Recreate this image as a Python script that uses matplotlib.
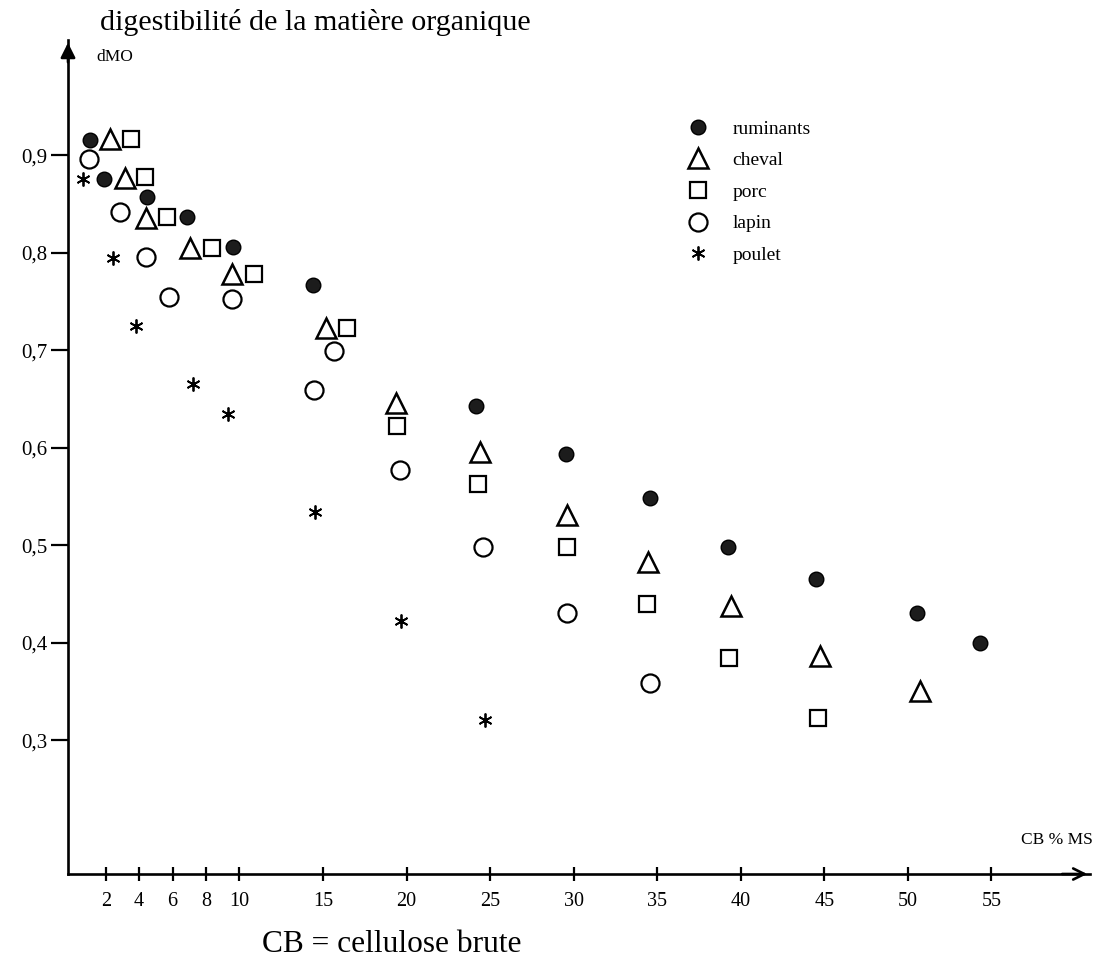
import matplotlib
matplotlib.use("Agg")
import matplotlib.pyplot as plt

# ---- data (CB % MS, dMO) ----
rum_x = [1.06, 1.90, 4.47, 6.86, 9.61, 14.40, 24.15, 29.53, 34.55, 39.22, 44.48, 50.52, 54.29]
rum_y = [0.915, 0.876, 0.857, 0.837, 0.806, 0.767, 0.643, 0.594, 0.548, 0.498, 0.465, 0.431, 0.400]

chev_x = [2.26, 3.15, 4.41, 7.04, 9.55, 15.17, 19.36, 24.38, 29.59, 34.43, 39.40, 44.72, 50.70]
chev_y = [0.916, 0.877, 0.836, 0.805, 0.778, 0.723, 0.646, 0.596, 0.531, 0.483, 0.438, 0.386, 0.351]

porc_x = [3.51, 4.35, 5.66, 8.36, 10.87, 16.43, 19.42, 24.27, 29.59, 34.37, 39.28, 44.60]
porc_y = [0.917, 0.878, 0.837, 0.805, 0.778, 0.723, 0.622, 0.563, 0.498, 0.440, 0.384, 0.323]

lap_x = [1.00, 2.85, 4.41, 5.78, 9.55, 15.64, 14.44, 19.60, 24.56, 29.59, 34.55]
lap_y = [0.896, 0.842, 0.796, 0.755, 0.752, 0.699, 0.659, 0.577, 0.498, 0.431, 0.359]

poul_x = [0.64, 2.43, 3.81, 7.22, 9.31, 14.51, 19.66, 24.69]
poul_y = [0.876, 0.794, 0.725, 0.665, 0.635, 0.534, 0.422, 0.321]

series_labels = ["ruminants", "cheval", "porc", "lapin", "poulet"]

x_ticks = [2, 4, 6, 8, 10, 15, 20, 25, 30, 35, 40, 45, 50, 55]
x_ticklabels = [str(v) for v in x_ticks]
y_ticks = [0.3, 0.4, 0.5, 0.6, 0.7, 0.8, 0.9]
y_ticklabels = ["0,3", "0,4", "0,5", "0,6", "0,7", "0,8", "0,9"]

title_text = "digestibilité de la matière organique"
ylabel_text = "dMO"
xlabel_text = "CB % MS"
note_text = "CB = cellulose brute"

# ---- figure ----
plt.rcParams['font.family'] = ['Liberation Serif', 'DejaVu Serif']
W, H = 1094, 974
AX_L, AX_R, AX_T, AX_B = 68, 1090, 40, 874
fig = plt.figure(figsize=(W / 100, H / 100), dpi=100)
ax = fig.add_axes([AX_L / W, 1 - AX_B / H, (AX_R - AX_L) / W, (AX_B - AX_T) / H])
ax.set_xlim(-0.26, 60.9)
ax.set_ylim(0.163, 1.018)

lw = 1.9
for s in ["top", "right"]:
    ax.spines[s].set_visible(False)
for s in ["left", "bottom"]:
    ax.spines[s].set_linewidth(lw)
    ax.spines[s].set_color("black")

ax.plot(rum_x, rum_y, linestyle="none", marker="o", ms=10.5, mfc="#1c1c1c", mec="black", mew=1.0,
        label=series_labels[0], clip_on=False)
ax.plot(chev_x, chev_y, linestyle="none", marker="^", ms=15, mfc="none", mec="black", mew=1.8,
        label=series_labels[1], clip_on=False)
ax.plot(porc_x, porc_y, linestyle="none", marker="s", ms=11.5, mfc="none", mec="black", mew=1.6,
        label=series_labels[2], clip_on=False)
ax.plot(lap_x, lap_y, linestyle="none", marker="o", ms=13, mfc="none", mec="black", mew=1.6,
        label=series_labels[3], clip_on=False)
ax.plot(poul_x, poul_y, linestyle="none", marker=(6, 2, 0), ms=10, mfc="none", mec="black", mew=1.3,
        label=series_labels[4], clip_on=False)

ax.set_xticks(x_ticks)
ax.set_xticklabels(x_ticklabels, fontsize=14.5)
ax.set_yticks(y_ticks)
ax.set_yticklabels(y_ticklabels, fontsize=15)
ax.tick_params(axis="x", direction="inout", length=10, width=1.6, pad=8)
ax.tick_params(axis="y", direction="out", length=12, width=1.6, pad=3)

# axis arrows
ax.annotate("", xy=(0, 1.0), xytext=(0, 0.97), xycoords="axes fraction",
            arrowprops=dict(arrowstyle="-|>", color="black", lw=lw, mutation_scale=22))
ax.annotate("", xy=(1.0, 0), xytext=(0.97, 0), xycoords="axes fraction",
            arrowprops=dict(arrowstyle="->", color="black", lw=lw, mutation_scale=20))

leg = ax.legend(loc="upper left",
                bbox_to_anchor=((686 - AX_L) / (AX_R - AX_L), (AX_B - 120) / (AX_B - AX_T)),
                frameon=False, fontsize=14, labelspacing=0.72, handletextpad=1.2,
                handlelength=1.2, borderaxespad=0, borderpad=0)

fig.text(100 / W, 1 - 22 / H, title_text, fontsize=21.6, ha="left", va="center")
fig.text(96 / W, 1 - 57 / H, ylabel_text, fontsize=12.5, ha="left", va="center")
fig.text(1093 / W, 1 - 840 / H, xlabel_text, fontsize=12.5, ha="right", va="center")
fig.text(262 / W, 1 - 945 / H, note_text, fontsize=22.6, ha="left", va="center")

fig.savefig("out.png", dpi=100, facecolor="white")
